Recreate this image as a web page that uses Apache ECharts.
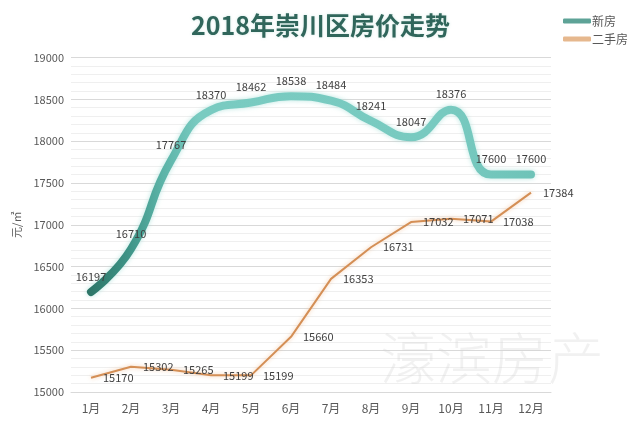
<!DOCTYPE html>
<html>

<head>
	<meta charset="utf-8">
	<title>2018年崇川区房价走势</title>
	<style type="text/css">
	html, body {
		margin: 0;
		padding: 0;
		background: #fff;
	}

	#chart {
		width: 641px;
		height: 424px;
	}
	</style>
</head>

<body>
	<div id="chart"></div>
	<script src="https://cdn.jsdelivr.net/npm/echarts@6/dist/echarts.min.js"></script>
	<script>
	// 数据
	var months = ['1月', '2月', '3月', '4月', '5月', '6月', '7月', '8月', '9月', '10月', '11月', '12月'];
	var newHouse = [16197, 16710, 17767, 18370, 18462, 18538, 18484, 18241, 18047, 18376, 17600, 17600];
	var secondHand = [15170, 15302, 15265, 15199, 15199, 15660, 16353, 16731, 17032, 17071, 17038, 17384];
	var seriesNames = ['新房', '二手房'];
	var yMin = 15000,
		yMax = 19000,
		yStep = 500;

	var font = '"Noto Sans CJK SC", "Noto Sans", sans-serif';
	var textColor = '#595959';

	var myChart = echarts.init(document.getElementById('chart'));
	var option = {
		animation: false,
		textStyle: {
			fontFamily: font
		},
		title: {
			text: '2018年崇川区房价走势',
			left: 'center',
			top: 8,
			textStyle: {
				color: '#30665b',
				fontSize: 25,
				fontWeight: 'bold',
				fontFamily: font,
				textShadowColor: 'rgba(120,190,175,0.35)',
				textShadowBlur: 3
			}
		},
		legend: {
			orient: 'vertical',
			right: 8,
			top: 10,
			itemWidth: 28,
			itemHeight: 5,
			itemGap: 6,
			icon: 'roundRect',
			textStyle: {
				color: textColor,
				fontSize: 12,
				padding: [0, 0, 0, -4]
			},
			data: [
				{ name: seriesNames[0], itemStyle: { color: '#5ea397' } },
				{ name: seriesNames[1], itemStyle: { color: '#e6b88e' } }
			]
		},
		grid: {
			left: 71,
			right: 90,
			top: 57.5,
			bottom: 32
		},
		xAxis: {
			type: 'category',
			data: months,
			boundaryGap: true,
			axisLine: {
				lineStyle: { color: '#d9d9d9' }
			},
			axisTick: {
				length: 5,
				lineStyle: { color: '#d9d9d9' }
			},
			axisLabel: {
				color: textColor,
				fontSize: 12,
				margin: 10
			}
		},
		yAxis: {
			type: 'value',
			min: yMin,
			max: yMax,
			interval: yStep,
			name: '元/㎡',
			nameLocation: 'middle',
			nameRotate: 90,
			nameGap: 44,
			nameTextStyle: {
				color: textColor,
				fontSize: 11
			},
			axisLine: { show: false },
			axisTick: { show: false },
			axisLabel: {
				color: textColor,
				fontSize: 11,
				margin: 7,
				formatter: function(v) {
					return String(v);
				}
			},
			splitLine: {
				lineStyle: { color: '#d9d9d9' }
			},
			minorTick: {
				show: false,
				splitNumber: 5
			},
			minorSplitLine: {
				show: true,
				lineStyle: { color: '#efefef' }
			}
		},
		graphic: [{
			type: 'text',
			left: 380,
			top: 330,
			z: 10,
			silent: true,
			style: {
				text: '濠滨房产',
				font: '300 56px ' + font,
				fill: 'rgba(210,210,210,0.32)'
			}
		}],
		series: [{
				name: seriesNames[0],
				type: 'line',
				data: newHouse,
				smooth: 0.5,
				symbol: 'circle',
				symbolSize: 0,
				z: 3,
				lineStyle: {
					width: 8,
					cap: 'round',
					color: new echarts.graphic.LinearGradient(0, 0, 1, 0, [
						{ offset: 0, color: '#2c7466' },
						{ offset: 0.09, color: '#3d9386' },
						{ offset: 0.17, color: '#5cb4a8' },
						{ offset: 0.25, color: '#79cbc1' },
						{ offset: 0.8, color: '#78cac0' },
						{ offset: 1, color: '#6ec3b8' }
					]),
					shadowColor: 'rgba(140,215,205,0.6)',
					shadowBlur: 5
				},
				itemStyle: { color: '#5ea397' },
				label: {
					show: true,
					position: 'top',
					distance: 10,
					color: '#404040',
					fontSize: 11
				}
			},
			{
				name: seriesNames[1],
				type: 'line',
				data: secondHand,
				smooth: false,
				symbol: 'circle',
				symbolSize: 0,
				z: 2,
				lineStyle: {
					width: 2,
					color: '#d48f56',
					shadowColor: 'rgba(240,185,140,0.7)',
					shadowBlur: 4
				},
				itemStyle: { color: '#e6b88e' },
				label: {
					show: true,
					position: 'right',
					distance: 12,
					color: '#404040',
					fontSize: 11
				}
			}
		]
	};
	myChart.setOption(option, true);
	</script>
</body>

</html>
